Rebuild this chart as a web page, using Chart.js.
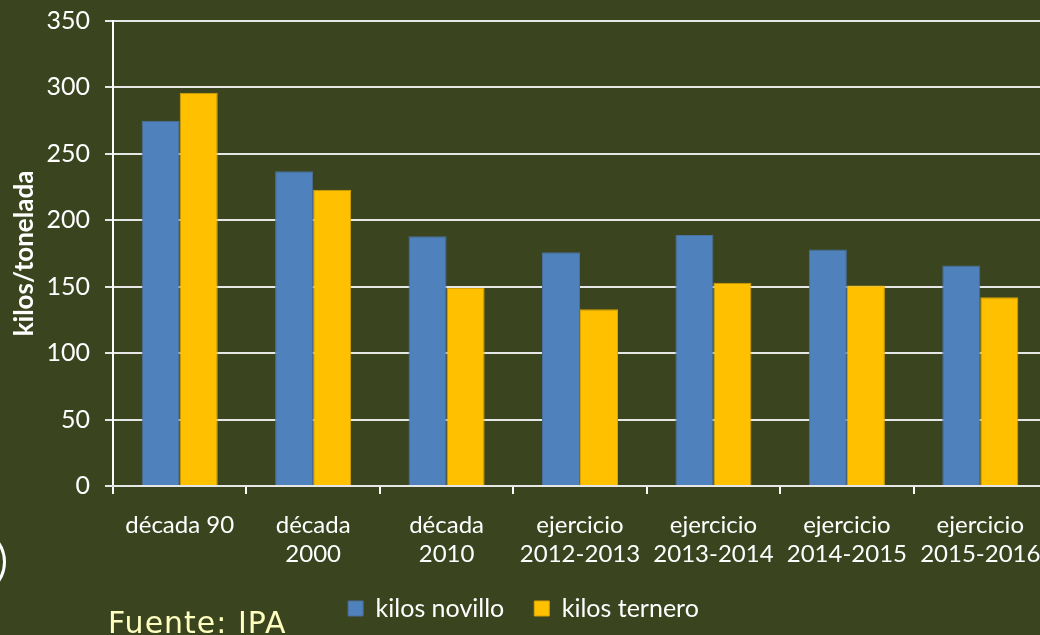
<!DOCTYPE html>
<html>
<head>
<meta charset="utf-8">
<script src="https://cdn.jsdelivr.net/npm/chart.js@4.4.1/dist/chart.umd.min.js"></script>
<style>
  html, body { margin: 0; padding: 0; background: #3a441f; overflow: hidden; }
  #wrap { position: relative; width: 1060px; height: 635px; }
  #fuente {
    position: absolute; left: 108px; top: 605px;
    font-family: "Comic Sans MS", "DejaVu Sans", sans-serif;
    font-size: 30px; color: #ffffc0; letter-spacing: 1px;
  }
  #circle {
    position: absolute; left: -64px; top: 527px; width: 64px; height: 64px;
    border: 3px solid #ffffff; border-radius: 50%;
  }
</style>
</head>
<body>
<div id="wrap">
  <canvas id="chart" width="1060" height="635"></canvas>
  <div id="circle"></div>
  <div id="fuente">Fuente: IPA</div>
</div>
<script>
// Datos
const categories = [
  ["década 90"],
  ["década", "2000"],
  ["década", "2010"],
  ["ejercicio", "2012-2013"],
  ["ejercicio", "2013-2014"],
  ["ejercicio", "2014-2015"],
  ["ejercicio", "2015-2016"],
];
const kilosNovillo = [275, 237, 188, 176, 189, 178, 166];
const kilosTernero = [296, 223, 149, 133, 153, 151, 142];
const yTicks = [0, 50, 100, 150, 200, 250, 300, 350];

const FONT = "Lato, 'Open Sans', sans-serif";

const ctx = document.getElementById("chart").getContext("2d");

new Chart(ctx, {
  type: "bar",
  data: {
    labels: categories,
    datasets: [
      {
        label: "kilos novillo",
        data: kilosNovillo,
        backgroundColor: "#4f81bd",
        borderColor: "#4a6f9a",
        borderWidth: 1,
      },
      {
        label: "kilos ternero",
        data: kilosTernero,
        backgroundColor: "#ffc000",
        borderColor: "#d9a400",
        borderWidth: 1,
      },
    ],
  },
  options: {
    responsive: false,
    animation: false,
    layout: {
      padding: { top: 21, right: 13, left: 0, bottom: 4 },
    },
    datasets: {
      bar: {
        categoryPercentage: 0.57,
        barPercentage: 1.0,
      },
    },
    plugins: {
      legend: {
        display: true,
        position: "bottom",
        labels: {
          color: "#ffffff",
          font: { family: FONT, size: 25 },
          boxWidth: 15,
          boxHeight: 15,
          padding: 30,
        },
      },
      tooltip: { enabled: false },
    },
    scales: {
      y: {
        min: 0,
        max: 350,
        afterBuildTicks: function (scale) {
          scale.ticks = yTicks.map((v) => ({ value: v }));
        },
        afterFit: function (scale) {
          scale.width = 113;
          scale.paddingTop = 0;
          scale.paddingBottom = 0;
        },
        ticks: {
          color: "#ffffff",
          font: { family: FONT, size: 25 },
          padding: 15,
        },
        grid: {
          color: "#e6e6e6",
          lineWidth: 2,
          tickLength: 8,
        },
        border: { color: "#ffffff", width: 2 },
        title: {
          display: true,
          text: "kilos/tonelada",
          color: "#ffffff",
          font: { family: FONT, size: 26, weight: "bold" },
          padding: { top: 9, bottom: 0 },
        },
      },
      x: {
        afterFit: function (scale) {
          scale.height = 80;
        },
        ticks: {
          color: "#ffffff",
          font: { family: FONT, size: 24, lineHeight: 1.2 },
          padding: 17,
          maxRotation: 0,
          autoSkip: false,
        },
        grid: {
          offset: true,
          drawOnChartArea: false,
          color: "#ffffff",
          lineWidth: 2,
          tickLength: 8,
        },
        border: { color: "#e6e6e6", width: 2 },
      },
    },
  },
});
</script>
</body>
</html>
